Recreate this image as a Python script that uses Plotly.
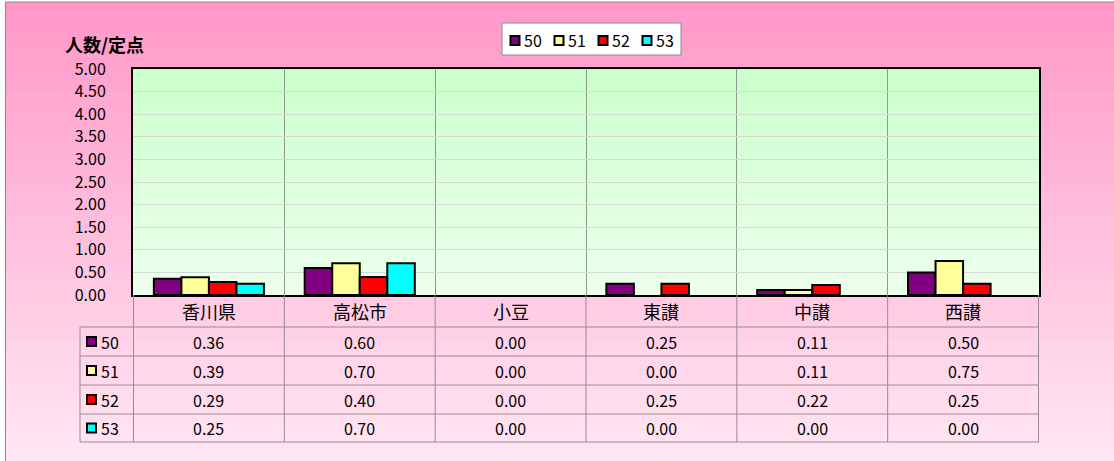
import plotly.graph_objects as go

categories = ["香川県", "高松市", "小豆", "東讃", "中讃", "西讃"]
series_names = ["50", "51", "52", "53"]
s50 = [0.36, 0.60, 0.00, 0.25, 0.11, 0.50]
s51 = [0.39, 0.70, 0.00, 0.00, 0.11, 0.75]
s52 = [0.29, 0.40, 0.00, 0.25, 0.22, 0.25]
s53 = [0.25, 0.70, 0.00, 0.00, 0.00, 0.00]
series_values = [s50, s51, s52, s53]
colors = ["#800080", "#FFFF99", "#FF0000", "#00FFFF"]
y_title = "人数/定点"

W, H = 1114, 461
L, R, T, B = 133, 1039, 69, 295
FONT = "Noto Sans CJK JP"


def xp(px):
    return (px - L) / (R - L)


def yp(py):
    return (B - py) / (B - T)


def lerp(c1, c2, t):
    return "rgb(%d,%d,%d)" % tuple(round(a + (b - a) * t) for a, b in zip(c1, c2))


fig = go.Figure()
for name, vals, col in zip(series_names, series_values, colors):
    fig.add_trace(go.Bar(
        x=categories, y=vals, name=name,
        marker=dict(color=col, line=dict(color="#000000",
                                         width=[2 if v > 0 else 0 for v in vals])),
        showlegend=False,
    ))

shapes = []
# pink page gradient
top_c, bot_c = (255, 152, 200), (255, 230, 242)
n = 46
y0 = 2
for i in range(n):
    a = y0 + (H - y0) * i / n
    b = y0 + (H - y0) * (i + 1) / n + 0.6
    shapes.append(dict(type="rect", xref="paper", yref="paper", layer="below",
                       x0=xp(5), x1=xp(W + 2), y0=yp(a), y1=yp(b),
                       line=dict(width=0), fillcolor=lerp(top_c, bot_c, i / (n - 1))))
# outer border
shapes.append(dict(type="line", xref="paper", yref="paper", layer="below",
                   x0=xp(5), x1=xp(W + 2), y0=yp(2), y1=yp(2), line=dict(color="#8a8a8a", width=1)))
shapes.append(dict(type="line", xref="paper", yref="paper", layer="below",
                   x0=xp(5.5), x1=xp(5.5), y0=yp(2), y1=yp(H + 2), line=dict(color="#8a8a8a", width=1)))
# green plot gradient
g_top, g_bot = (204, 255, 204), (236, 255, 236)
m = 30
for i in range(m):
    a = T + (B - T) * i / m
    b = T + (B - T) * (i + 1) / m + 0.6
    shapes.append(dict(type="rect", xref="paper", yref="paper", layer="below",
                       x0=0, x1=1, y0=yp(a), y1=yp(min(b, B)),
                       line=dict(width=0), fillcolor=lerp(g_top, g_bot, i / (m - 1))))

# table lines
row_edges = [327, 356, 385, 414, 442]
tcol = "#9a8a92"
for ry in row_edges:
    shapes.append(dict(type="line", xref="paper", yref="paper",
                       x0=xp(80), x1=1, y0=yp(ry), y1=yp(ry), line=dict(color=tcol, width=1)))
shapes.append(dict(type="line", xref="paper", yref="paper",
                   x0=xp(80), x1=xp(80), y0=yp(327), y1=yp(442), line=dict(color=tcol, width=1)))
for k in range(len(categories) + 1):
    shapes.append(dict(type="line", xref="x", yref="paper",
                       x0=k - 0.5, x1=k - 0.5, y0=0, y1=yp(442), line=dict(color=tcol, width=1)))

annotations = []
# y-axis title
annotations.append(dict(text="<b>" + y_title + "</b>", xref="paper", yref="paper",
                        x=xp(104), y=yp(44), showarrow=False, xanchor="center", yanchor="middle",
                        font=dict(family=FONT, size=18, color="#000000")))
# category labels
for c in categories:
    annotations.append(dict(text=c, xref="x", yref="paper", x=c, y=yp(311),
                            showarrow=False, xanchor="center", yanchor="middle",
                            font=dict(family=FONT, size=18, color="#000000")))
# table rows
row_centers = [(row_edges[i] + row_edges[i + 1]) / 2 for i in range(4)]
for name, vals, col, rc in zip(series_names, series_values, colors, row_centers):
    shapes.append(dict(type="rect", xref="paper", yref="paper",
                       x0=xp(87), x1=xp(96), y0=yp(rc - 4.5), y1=yp(rc + 4.5),
                       fillcolor=col, line=dict(color="#000000", width=2)))
    annotations.append(dict(text=name, xref="paper", yref="paper", x=xp(99), y=yp(rc),
                            showarrow=False, xanchor="left", yanchor="middle",
                            font=dict(family=FONT, size=16, color="#000000")))
    for c, v in zip(categories, vals):
        annotations.append(dict(text="%.2f" % v, xref="x", yref="paper", x=c, y=yp(rc),
                                showarrow=False, xanchor="center", yanchor="middle",
                                font=dict(family=FONT, size=16, color="#000000")))

# legend box
shapes.append(dict(type="rect", xref="paper", yref="paper",
                   x0=xp(502), x1=xp(681), y0=yp(23), y1=yp(55),
                   fillcolor="#FFFFFF", line=dict(color="#8a8a8a", width=1)))
key_x = [515, 559, 603, 647]
for name, col, kx in zip(series_names, colors, key_x):
    shapes.append(dict(type="rect", xref="paper", yref="paper",
                       x0=xp(kx - 4.5), x1=xp(kx + 4.5), y0=yp(36), y1=yp(45),
                       fillcolor=col, line=dict(color="#000000", width=2)))
    annotations.append(dict(text=name, xref="paper", yref="paper", x=xp(kx + 7), y=yp(40.5),
                            showarrow=False, xanchor="left", yanchor="middle",
                            font=dict(family=FONT, size=16, color="#000000")))

fig.update_layout(
    width=W, height=H,
    margin=dict(l=L, r=W - R, t=T, b=H - B, pad=0),
    paper_bgcolor="#FFFFFF",
    plot_bgcolor="rgba(0,0,0,0)",
    barmode="group", bargap=0.27, bargroupgap=0,
    shapes=shapes, annotations=annotations,
    showlegend=False,
    font=dict(family=FONT, size=15, color="#000000"),
    xaxis=dict(type="category", showticklabels=False, ticks="", showgrid=True,
               tickson="boundaries", gridcolor="#8c9c8c", gridwidth=1,
               showline=True, linecolor="#000000", linewidth=2, mirror=True,
               zeroline=False, fixedrange=True),
    yaxis=dict(range=[0, 5], dtick=0.5, tickformat=".2f", showgrid=True,
               gridcolor="#d2dcd2", gridwidth=1, ticks="", ticklabelstandoff=22,
               showline=True, linecolor="#000000", linewidth=2, mirror=True,
               zeroline=False, tickfont=dict(family=FONT, size=16, color="#000000"),
               fixedrange=True),
)

fig.write_html("out.html", config={"displayModeBar": False},
               post_script="document.body.style.margin='0';document.body.style.overflow='hidden';")
